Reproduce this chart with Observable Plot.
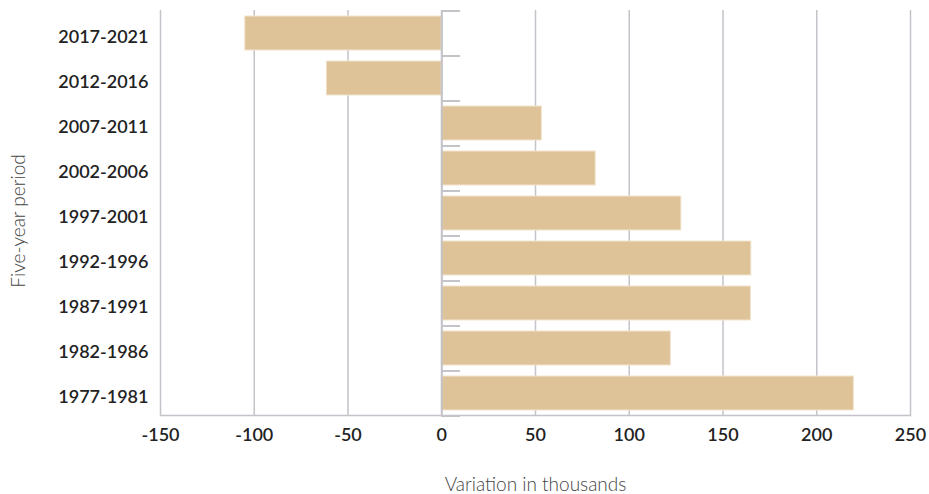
<!DOCTYPE html>
<html>
<head>
<meta charset="utf-8">
<script src="https://cdn.jsdelivr.net/npm/d3@7"></script>
<script src="https://cdn.jsdelivr.net/npm/@observablehq/plot@0.6"></script>
<style>
  html, body { margin: 0; padding: 0; background: #fff; }
  #chart { width: 929px; height: 494px; }
</style>
</head>
<body>
<div id="chart"></div>
<script>
const periods = ["2017-2021", "2012-2016", "2007-2011", "2002-2006", "1997-2001", "1992-1996", "1987-1991", "1982-1986", "1977-1981"];
const variation = [-104.8, -61.3, 53.4, 82.1, 127.8, 165.1, 164.9, 122.2, 219.8];
const xTicks = [-150, -100, -50, 0, 50, 100, 150, 200, 250];
const xTitle = "Variation in thousands";
const yTitle = "Five-year period";

const data = periods.map((p, i) => ({period: p, value: variation[i]}));

const width = 929, height = 494;
const marginTop = 10, marginBottom = 79, marginLeft = 160, marginRight = 19;
const step = (height - marginTop - marginBottom) / periods.length;
const gray = "#c3c3c9";

const chart = Plot.plot({
  width, height, marginTop, marginBottom, marginLeft, marginRight,
  style: {fontFamily: "Lato, 'Open Sans', sans-serif", fontSize: "18px", color: "#222", background: "#fff"},
  x: {domain: [-150, 250], ticks: xTicks},
  y: {domain: periods, paddingInner: 0.25, paddingOuter: 0.125},
  marks: [
    Plot.gridX(xTicks, {stroke: gray, strokeOpacity: 1, strokeWidth: 1.5}),
    Plot.frame({anchor: "bottom", stroke: gray, strokeWidth: 1.5}),
    Plot.barX(data, {x: "value", y: "period", fill: "#dfc398", stroke: "#f1e4cd", strokeWidth: 1}),
    Plot.ruleX([0], {stroke: gray, strokeWidth: 2}),
    Plot.ruleY(periods, {y: d => d, x1: 0, x2: 10, stroke: gray, strokeWidth: 2, dy: -step / 2}),
    Plot.ruleY(periods.slice(-1), {y: d => d, x1: 0, x2: 10, stroke: gray, strokeWidth: 2, dy: step / 2}),
    Plot.axisY({tickSize: 0, tickPadding: 12, label: null, fontWeight: 600, fill: "#222", dy: 4}),
    Plot.axisX(xTicks, {tickSize: 0, tickPadding: 13, label: null, fontWeight: 600, fill: "#222", tickFormat: d => String(d)}),
    Plot.text([xTitle], {frameAnchor: "bottom", lineAnchor: "middle", textAnchor: "middle", dy: 69, fill: "#444", fontSize: 19, fontWeight: 300}),
    Plot.text([yTitle], {frameAnchor: "left", lineAnchor: "middle", textAnchor: "middle", rotate: -90, dx: -142, dy: 8, fill: "#444", fontSize: 19, fontWeight: 300})
  ]
});
document.getElementById("chart").appendChild(chart);
</script>
</body>
</html>
